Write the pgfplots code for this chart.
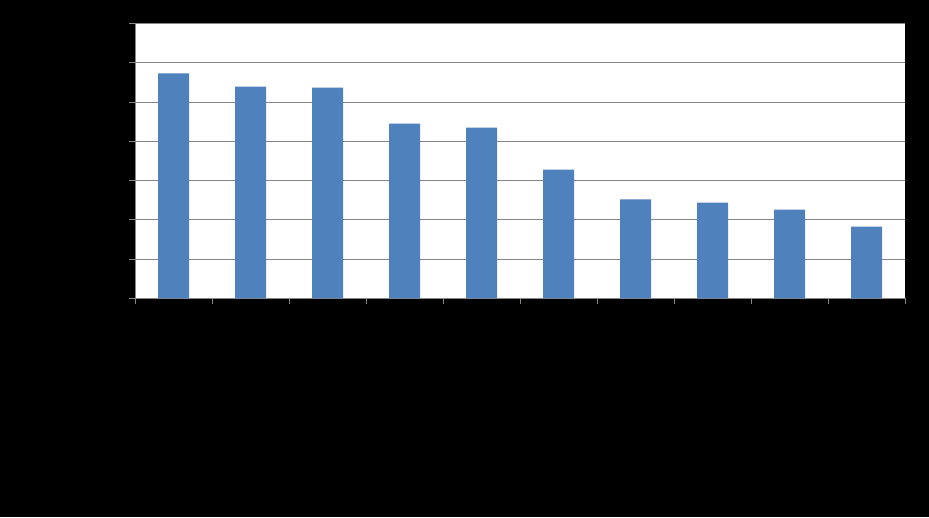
\documentclass[border=0pt]{standalone}
\usepackage{pgfplots}
\pgfplotsset{compat=1.18}
\definecolor{barblue}{RGB}{79,129,189}
\definecolor{axisgrey}{RGB}{134,134,134}
\begin{document}
\begin{tikzpicture}
% page background (the reference is black round the plot area)
\fill[black] (0,0) rectangle (929pt,517pt);
\begin{axis}[
    at={(135pt,218.5pt)}, anchor=south west,
    scale only axis, width=770pt, height=275pt,
    xmin=-0.5, xmax=9.5, ymin=0, ymax=7,
    axis lines*=left,
    axis line style={axisgrey, line width=1pt},
    axis background/.style={fill=white},
    ytick={0,1,...,7},
    xtick={-0.5,0.5,...,9.5},
    xticklabels={}, yticklabels={},
    tick align=outside, major tick length=6pt,
    tick style={axisgrey, line width=1pt},
    ymajorgrids, grid style={axisgrey, line width=1pt},
    ybar, bar width=31pt,
]
\addplot[fill=barblue, draw=none] coordinates {
    (0,5.73) (1,5.39) (2,5.37) (3,4.45) (4,4.35)
    (5,3.28) (6,2.52) (7,2.44) (8,2.26) (9,1.83)
};
\end{axis}
\end{tikzpicture}
\end{document}
